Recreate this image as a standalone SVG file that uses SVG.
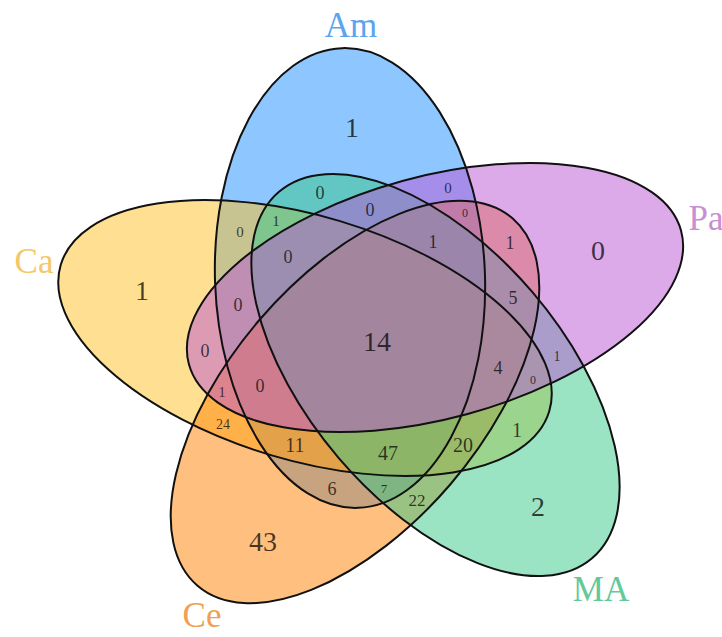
<svg xmlns="http://www.w3.org/2000/svg" width="722" height="637" viewBox="0 0 722 637">
<style>
.fill{fill-opacity:0.5;stroke:none}
.edge{fill:none;stroke:#111;stroke-width:2}
.lab{font-family:"Liberation Serif",serif;font-size:35px;text-anchor:middle}
.n{font-family:"Liberation Serif",serif;text-anchor:middle;fill:#000;fill-opacity:0.72}
</style>
<rect width="722" height="637" fill="#fff"/>
<g id="set-Am"><ellipse class="fill" fill="#1e90ff" cx="350" cy="278" rx="135" ry="230" transform="rotate(-2 350 278)"/></g>
<g id="set-Ca"><ellipse class="fill" fill="#ffc125" cx="305" cy="338" rx="255" ry="122" transform="rotate(16.7 305 338)"/></g>
<g id="set-Ce"><ellipse class="fill" fill="#ff7f00" cx="355" cy="402" rx="242" ry="126" transform="rotate(-49.4 355 402)"/></g>
<g id="set-MA"><ellipse class="fill" fill="#36c888" cx="435.5" cy="375" rx="241" ry="127.5" transform="rotate(49.5 435.5 375)"/></g>
<g id="set-Pa"><ellipse class="fill" fill="#ba55d3" cx="435" cy="297.5" rx="255" ry="121" transform="rotate(-15.2 435 297.5)"/></g>
<g id="outlines">
<ellipse class="edge" cx="350" cy="278" rx="135" ry="230" transform="rotate(-2 350 278)"/>
<ellipse class="edge" cx="305" cy="338" rx="255" ry="122" transform="rotate(16.7 305 338)"/>
<ellipse class="edge" cx="355" cy="402" rx="242" ry="126" transform="rotate(-49.4 355 402)"/>
<ellipse class="edge" cx="435.5" cy="375" rx="241" ry="127.5" transform="rotate(49.5 435.5 375)"/>
<ellipse class="edge" cx="435" cy="297.5" rx="255" ry="121" transform="rotate(-15.2 435 297.5)"/>
</g>
<g id="labels">
<text class="lab" x="351" y="37" fill="#5aa5ee">Am</text>
<text class="lab" x="706" y="230" fill="#c98fd2">Pa</text>
<text class="lab" x="34" y="273" fill="#f3c76a">Ca</text>
<text class="lab" x="202" y="627" fill="#f0a050">Ce</text>
<text class="lab" x="601" y="601" fill="#62c99a">MA</text>
</g>
<g id="counts">
<text class="n" x="352" y="137" font-size="28">1</text>
<text class="n" x="598" y="260" font-size="28">0</text>
<text class="n" x="142" y="300" font-size="28">1</text>
<text class="n" x="377" y="351" font-size="28">14</text>
<text class="n" x="263" y="551" font-size="28">43</text>
<text class="n" x="538" y="516" font-size="28">2</text>
<text class="n" x="320" y="199" font-size="18">0</text>
<text class="n" x="276" y="226" font-size="15">1</text>
<text class="n" x="240" y="237" font-size="15">0</text>
<text class="n" x="288" y="263" font-size="18">0</text>
<text class="n" x="370" y="216" font-size="18">0</text>
<text class="n" x="448" y="193" font-size="15">0</text>
<text class="n" x="465" y="217" font-size="12">0</text>
<text class="n" x="433" y="248" font-size="18">1</text>
<text class="n" x="510" y="249" font-size="18">1</text>
<text class="n" x="513" y="304" font-size="18">5</text>
<text class="n" x="238" y="311" font-size="18">0</text>
<text class="n" x="205" y="357" font-size="18">0</text>
<text class="n" x="260" y="392" font-size="18">0</text>
<text class="n" x="222" y="397" font-size="14">1</text>
<text class="n" x="223" y="429" font-size="14">24</text>
<text class="n" x="295" y="452" font-size="20">11</text>
<text class="n" x="388" y="460" font-size="20">47</text>
<text class="n" x="463" y="452" font-size="20">20</text>
<text class="n" x="332" y="495" font-size="18">6</text>
<text class="n" x="384" y="493" font-size="13">7</text>
<text class="n" x="417" y="506" font-size="17">22</text>
<text class="n" x="498" y="374" font-size="18">4</text>
<text class="n" x="557" y="361" font-size="14">1</text>
<text class="n" x="533" y="384" font-size="12">0</text>
<text class="n" x="517" y="437" font-size="20">1</text>
</g>
</svg>
